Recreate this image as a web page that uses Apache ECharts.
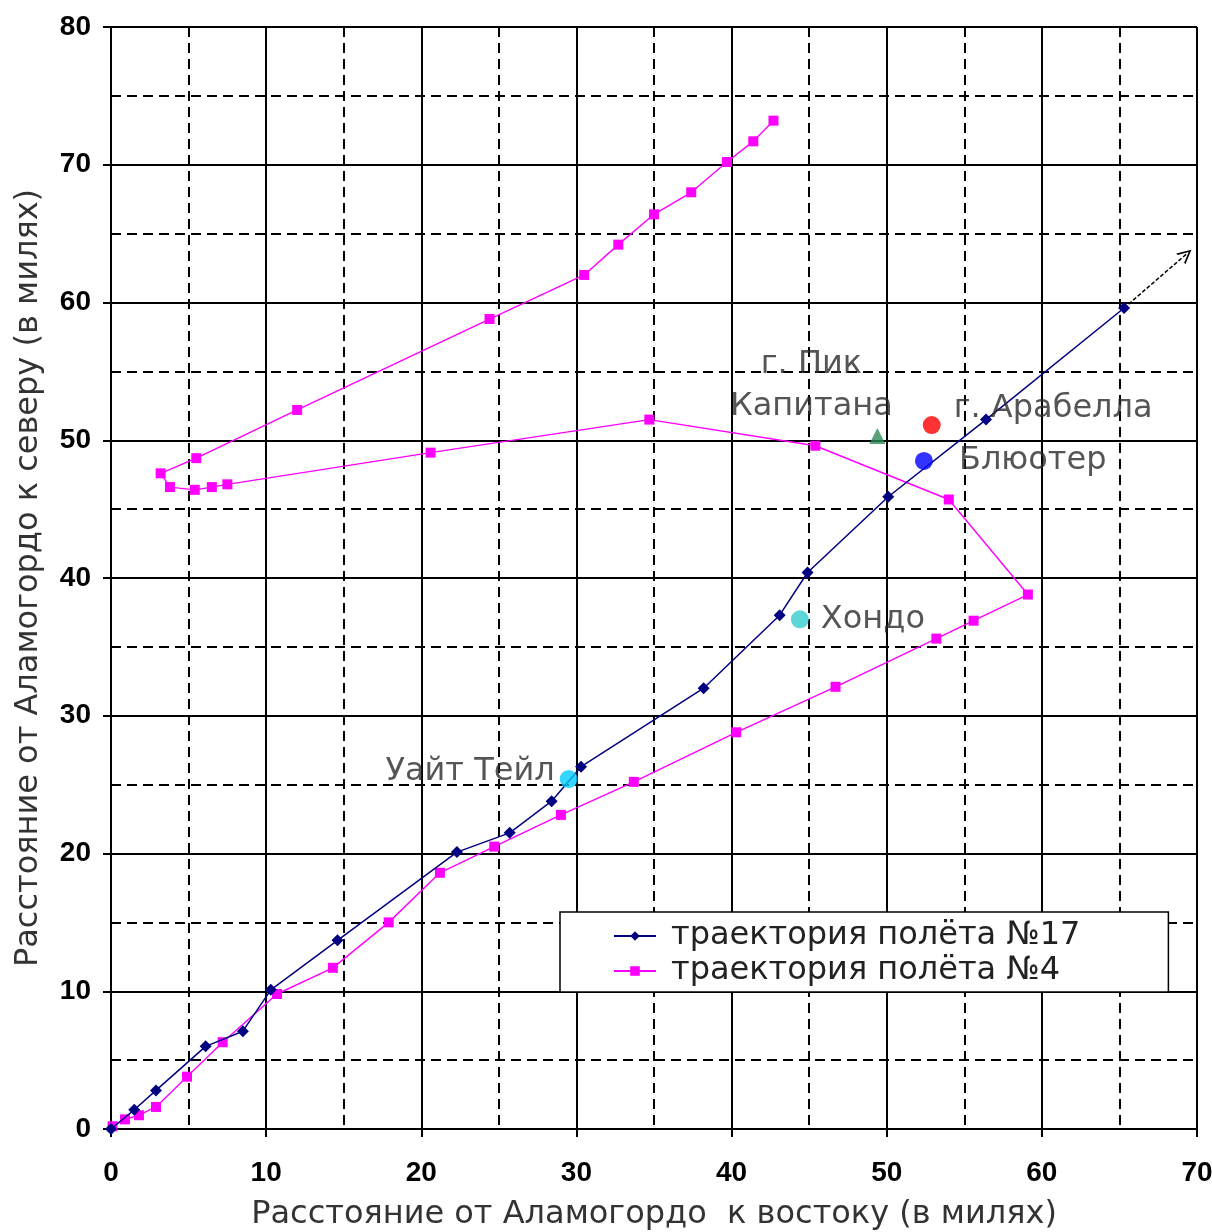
<!DOCTYPE html>
<html>
<head>
<meta charset="utf-8">
<script src="https://cdn.jsdelivr.net/npm/echarts@6/dist/echarts.min.js"></script>
<style>html,body{margin:0;padding:0;background:#fff}#c{width:1212px;height:1232px}</style>
</head>
<body>
<div id="c"></div>
<script>
// Flight path No.17 [east miles, north miles]
var flight17 = [[0,0],[1.5,1.4],[2.9,2.8],[6.1,6.0],[8.5,7.1],[10.3,10.1],[14.6,13.7],[22.3,20.1],[25.7,21.5],[28.4,23.8],[30.3,26.3],[38.2,32.0],[43.1,37.3],[44.9,40.4],[50.1,45.9],[56.4,51.5],[65.3,59.6]];
// Flight path No.4
var flight4 = [[0.1,0.2],[0.9,0.7],[1.8,1.0],[2.9,1.6],[4.9,3.8],[7.2,6.3],[10.7,9.8],[14.3,11.7],[17.9,15.0],[21.2,18.6],[24.7,20.5],[29.0,22.8],[33.7,25.2],[40.3,28.8],[46.7,32.1],[53.2,35.6],[55.6,36.9],[59.1,38.8],[54.0,45.7],[45.4,49.6],[34.7,51.5],[20.6,49.1],[7.5,46.8],[6.5,46.6],[5.4,46.4],[3.8,46.6],[3.2,47.6],[5.5,48.7],[12.0,52.2],[24.4,58.8],[30.5,62.0],[32.7,64.2],[35.0,66.4],[37.4,68.0],[39.7,70.2],[41.4,71.7],[42.7,73.2]];
// continuation arrow of flight 17
var arrowLine = [[65.3,59.6],[69.3,63.5]];
// landmarks
var whiteTail = [29.5,25.4];
var hondo = [44.4,37.0];
var peakKapitan = [49.4,50.3];
var arabella = [52.9,51.1];
var bluewater = [52.4,48.5];

var xTicks = [0,70,10];
var yTicks = [0,80,10];
var seriesNames = ['траектория полёта №17','траектория полёта №4'];
var xName = 'Расстояние от Аламогордо  к востоку (в милях)';
var yName = 'Расстояние от Аламогордо к северу (в милях)';

var chart = echarts.init(document.getElementById('c'));
var tickFont = {fontFamily:'Liberation Sans, Arial', fontWeight:'bold', fontSize:28, color:'#000'};
var textFamily = 'DejaVu Sans, Liberation Sans, Arial';
var labelFont = {fontFamily:textFamily, fontSize:32, color:'#2a2a2a'};
function axisCommon(t){
  return {
    type:'value', min:t[0], max:t[1], interval:t[2],
    axisLine:{show:true, lineStyle:{color:'#000', width:2}},
    axisTick:{show:true, length:8, lineStyle:{color:'#000', width:2}},
    splitLine:{show:true, lineStyle:{color:'#000', width:2}},
    minorTick:{show:false, splitNumber:2},
    minorSplitLine:{show:true, lineStyle:{color:'#000', width:2, type:[10,6]}},
    axisLabel:Object.assign({}, tickFont),
    nameLocation:'middle',
    nameTextStyle:{fontFamily:textFamily, fontSize:32, color:'#333'}
  };
}
var xa = axisCommon(xTicks); xa.name = xName; xa.nameGap = 70; xa.axisLabel.margin = 30;
var ya = axisCommon(yTicks); ya.name = yName; ya.nameGap = 66; ya.axisLabel.margin = 20;

function landmark(pt, color, symbol, size, text, pos, extra){
  return {
    type:'scatter', data:[pt], symbol:symbol, symbolSize:size, z:5,
    itemStyle:{color:color},
    label:Object.assign({show:true, formatter:text, position:pos}, labelFont, extra||{}),
    silent:true
  };
}

chart.setOption({
  animation:false,
  backgroundColor:'#fff',
  grid:{left:111, right:15, top:27, bottom:103, containLabel:false, outerBoundsMode:'none'},
  xAxis:xa,
  yAxis:ya,
  legend:{
    data:seriesNames, orient:'vertical', left:560, top:912,
    backgroundColor:'#fff', borderColor:'#000', borderWidth:1.5,
    padding:[8, 88, 5, 53], itemWidth:42, itemHeight:12, itemGap:3,
    textStyle:{fontFamily:textFamily, fontSize:32, color:'#222', padding:[0,0,0,10]}
  },
  series:[
    {name:seriesNames[0], type:'line', data:flight17, symbol:'diamond', symbolSize:12, z:4,
      itemStyle:{color:'#000080'}, lineStyle:{color:'#000080', width:1.5}},
    {name:seriesNames[1], type:'line', data:flight4, symbol:'rect', symbolSize:10, z:3,
      itemStyle:{color:'#ff00ff'}, lineStyle:{color:'#ff00ff', width:1.4}},
    {type:'lines', coordinateSystem:'cartesian2d', data:[{coords:arrowLine}],
      symbol:['none','path://M0,10 L5,0 L10,10 L8.6,10 L5,2.6 L1.4,10 Z'], symbolSize:[14,14],
      lineStyle:{color:'#000', width:1.5, type:[4,2], opacity:1}, z:4, silent:true},
    landmark(whiteTail, '#00ccff', 'circle', 18, 'Уайт Тейл', 'left', {distance:5, offset:[0,-7]}),
    landmark(hondo, '#33cccc', 'circle', 18, 'Хондо', 'right', {distance:12}),
    landmark(peakKapitan, '#2e8b57', 'triangle', 16, 'г. Пик\nКапитана', 'top', {offset:[-66,0], lineHeight:42, distance:0, align:'center'}),
    landmark(arabella, '#ff0000', 'circle', 18, 'г. Арабелла', 'right', {distance:13, offset:[0,-16]}),
    landmark(bluewater, '#0000ff', 'circle', 18, 'Блюотер', 'right', {distance:26})
  ]
});
</script>
</body>
</html>
